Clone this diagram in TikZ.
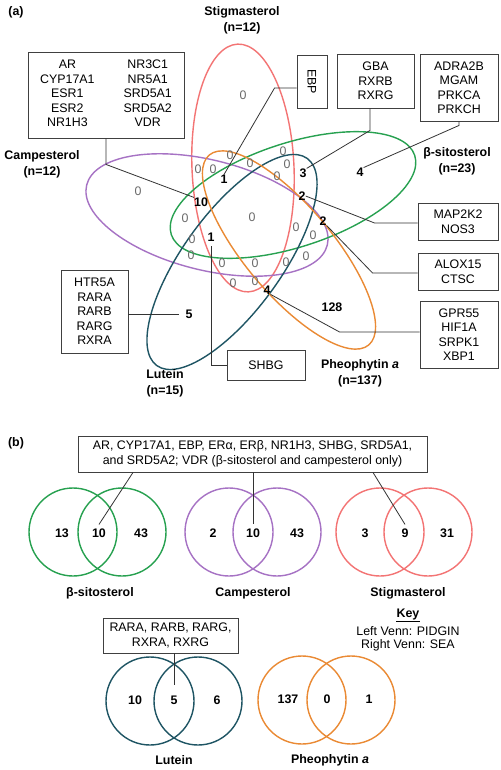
\documentclass[tikz,border=0pt]{standalone}
\usepackage{fontspec}
\setmainfont{Liberation Sans}
\usetikzlibrary{positioning,calc}
\definecolor{stigred}{HTML}{F37474}
\definecolor{camppurple}{HTML}{A672C4}
\definecolor{sitogreen}{HTML}{27A150}
\definecolor{lutteal}{HTML}{1F5564}
\definecolor{pheoorange}{HTML}{EA8A34}
\newcommand{\genefont}{\fontsize{12.4}{14.5}\selectfont}
\tikzset{
  genebox/.style={draw=black!75, line width=0.9pt, align=center, font=\genefont, inner sep=2pt},
  setname/.style={font=\bfseries\fontsize{12.4}{16}\selectfont, align=center},
  zero/.style={text=black!58, font=\genefont, inner sep=0pt},
  regnum/.style={font=\bfseries\genefont, inner sep=0pt},
  keyline/.style={font=\genefont, inner sep=0pt},
  setline/.style={line width=1.4pt},
  link/.style={draw=black!80, line width=0.8pt},
  venn/.style={circle, draw, line width=1.4pt, minimum size=88pt, inner sep=0pt}
}

\begin{document}
\begin{tikzpicture}[x=1pt, y=-1pt]
  \path[use as bounding box, fill=white] (0,0) rectangle (500,770);

  \node[setname] (pa) at (16,12) {(a)};
  \draw[setline, draw=stigred, rotate around={2.5:(243,168)}] (243,168) ellipse (51 and 124);
  \draw[setline, draw=camppurple, rotate around={-14:(207,215)}] (207,215) ellipse (124 and 55);
  \draw[setline, draw=sitogreen, rotate around={18:(293,195)}] (293,195) ellipse (128 and 52);
  \draw[setline, draw=lutteal, rotate around={54:(232,262)}] (232,262) ellipse (128 and 49);
  \draw[setline, draw=pheoorange, rotate around={-50:(289,250)}] (289,250) ellipse (124 and 44);

  \node[setname] (stiglab) at (242,20) {Stigmasterol\\(n=12)};
  \node[setname] (camplab) at (42,164) {Campesterol\\(n=12)};
  \node[setname] (sitolab) at (457,161) {β-sitosterol\\(n=23)};
  \node[setname] (lutlab) at (165,383.5) {Lutein\\(n=15)};
  \node[setname] (pheolab) at (360,373.5) {Pheophytin \textit{a}\\(n=137)};

  \foreach \x/\y [count=\i] in {243/95, 138/191, 198/169, 213/169, 230/155, 250/163, 283/151,
      287/164, 277/176, 252/217, 185/218, 192/239, 191/255, 222/263, 255/263, 286/262,
      306/256, 296/227, 313/235, 233/283, 255/281}
    \node[zero] (z\i) at (\x,\y) {0};

  \node[regnum] (n1a) at (224,179) {1};
  \node[regnum] (n10) at (201,202) {10};
  \node[regnum] (n3) at (303,173) {3};
  \node[regnum] (n2a) at (302,196) {2};
  \node[regnum] (n2b) at (323,221) {2};
  \node[regnum] (n1b) at (211,237) {1};
  \node[regnum] (n4b) at (267,290) {4};
  \node[regnum] (n128) at (332,307) {128};
  \node[regnum] (n4a) at (360,172) {4};
  \node[regnum] (n5) at (189,314) {5};

  \node[genebox, minimum width=156pt, minimum height=86pt] (multibox) at (106,95)
    {\begin{tabular}{@{}c@{\hspace{29pt}}c@{}}AR & NR3C1\\ CYP17A1 & NR5A1\\ ESR1 & SRD5A1\\ ESR2 & SRD5A2\\ NR1H3 & VDR\end{tabular}};
  \node[genebox, rotate=-90, minimum width=53pt, minimum height=30pt] (ebpbox) at (312,81.5) {EBP};
  \node[genebox, minimum width=77pt, minimum height=54pt] (gbabox) at (375.5,81) {GBA\\RXRB\\RXRG};
  \node[genebox, minimum width=78pt, minimum height=67pt] (adrabox) at (459,87.5) {ADRA2B\\MGAM\\PRKCA\\PRKCH};
  \node[genebox, minimum width=80pt, minimum height=37pt] (mapbox) at (458,221.5) {MAP2K2\\NOS3};
  \node[genebox, minimum width=80pt, minimum height=37pt] (aloxbox) at (458,271.5) {ALOX15\\CTSC};
  \node[genebox, minimum width=78pt, minimum height=67pt] (gprbox) at (459,334.5) {GPR55\\HIF1A\\SRPK1\\XBP1};
  \node[genebox, minimum width=67pt, minimum height=83pt] (htrbox) at (94.5,311.5) {HTR5A\\RARA\\RARB\\RARG\\RXRA};
  \node[genebox, minimum width=78pt, minimum height=30pt] (shbgbox) at (266,365) {SHBG};

  \draw[link] (multibox.south) -- ++(0,26) -- (n10.north west);
  \draw[link] ([yshift=-6.5pt]ebpbox.south) -- ++(-22,0) -- (n1a.north);
  \draw[link] ([xshift=-5.5pt]gbabox.south) -- ++(0,22) -- (n3.north east);
  \draw[link] (adrabox.south) -- ++(0,4) -- (n4a.north east);
  \draw[link] ([yshift=-1.5pt]mapbox.west) -- ++(-43,0) -- (n2a.east);
  \draw[link] ([yshift=-1.5pt]aloxbox.west) -- ++(-45,0) -- (n2b.south east);
  \draw[link] ([yshift=2.5pt]gprbox.west) -- ++(-80,0) -- (n4b.south east);
  \draw[link] (htrbox.east |- n5) -- ([xshift=-6pt]n5.west);
  \draw[link] (shbgbox.west) -| ([yshift=-5pt]n1b.south);

  \node[setname] (pb) at (16,443) {(b)};
  \node[genebox, minimum width=349pt, minimum height=36pt] (topbox) at (252.5,454)
    {AR, CYP17A1, EBP, ERα, ERβ, NR1H3, SHBG, SRD5A1,\\and SRD5A2; VDR (β-sitosterol and campesterol only)};

  \node[venn, draw=sitogreen] (sitoL) at (73,532) {};
  \node[venn, draw=sitogreen] (sitoR) at (122,532) {};
  \node[venn, draw=camppurple] (campL) at (229,532) {};
  \node[venn, draw=camppurple] (campR) at (277,532) {};
  \node[venn, draw=stigred] (stigL) at (380,532) {};
  \node[venn, draw=stigred] (stigR) at (428,532) {};
  \node[venn, draw=lutteal] (lutL) at (150,701) {};
  \node[venn, draw=lutteal] (lutR) at (198,701) {};
  \node[venn, draw=pheoorange] (pheoL) at (302,700) {};
  \node[venn, draw=pheoorange] (pheoR) at (351,700) {};

  \node[regnum] (sito13) at (62,533) {13};
  \node[regnum] (sito10) at (99,533) {10};
  \node[regnum] (sito43) at (141,533) {43};
  \node[regnum] (camp2) at (213,533) {2};
  \node[regnum] (camp10) at (253,533) {10};
  \node[regnum] (camp43) at (297,533) {43};
  \node[regnum] (stig3) at (365,533) {3};
  \node[regnum] (stig9) at (405,533) {9};
  \node[regnum] (stig31) at (447,533) {31};
  \node[regnum] (lut10) at (135,700) {10};
  \node[regnum] (lut5) at (174,700) {5};
  \node[regnum] (lut6) at (217,700) {6};
  \node[regnum] (pheo137) at (288,699) {137};
  \node[regnum] (pheo0) at (327,699) {0};
  \node[regnum] (pheo1) at (369,699) {1};

  \node[setname] (sitoname) at (100,593) {β-sitosterol};
  \node[setname] (campname) at (253,593) {Campesterol};
  \node[setname] (stigname) at (408,593) {Stigmasterol};
  \node[setname] (lutname) at (174,760) {Lutein};
  \node[setname] (pheoname) at (330,760) {Pheophytin \textit{a}};

  \node[genebox, minimum width=135pt, minimum height=35pt] (lutbox) at (170.5,635.5) {RARA, RARB, RARG,\\RXRA, RXRG};
  \node[setname, inner sep=0pt] (keyhead) at (408,615) {Key};
  \draw[line width=0.8pt] ([yshift=-1pt]keyhead.south west) -- ([yshift=-1pt]keyhead.south east);
  \node[keyline] (keyleft) at (408,631) {Left Venn: PIDGIN};
  \node[keyline] (keyright) at (408,645) {Right Venn: SEA};

  \draw[link] ([xshift=-119.5pt]topbox.south) -- ([yshift=4pt]sito10.north);
  \draw[link] (topbox.south -| camp10) -- ([yshift=4pt]camp10.north);
  \draw[link] ([xshift=120.5pt]topbox.south) -- ([yshift=4pt]stig9.north);
  \draw[link] (lutbox.south -| lut5) -- ([yshift=10pt]lut5.north);
\end{tikzpicture}
\end{document}
